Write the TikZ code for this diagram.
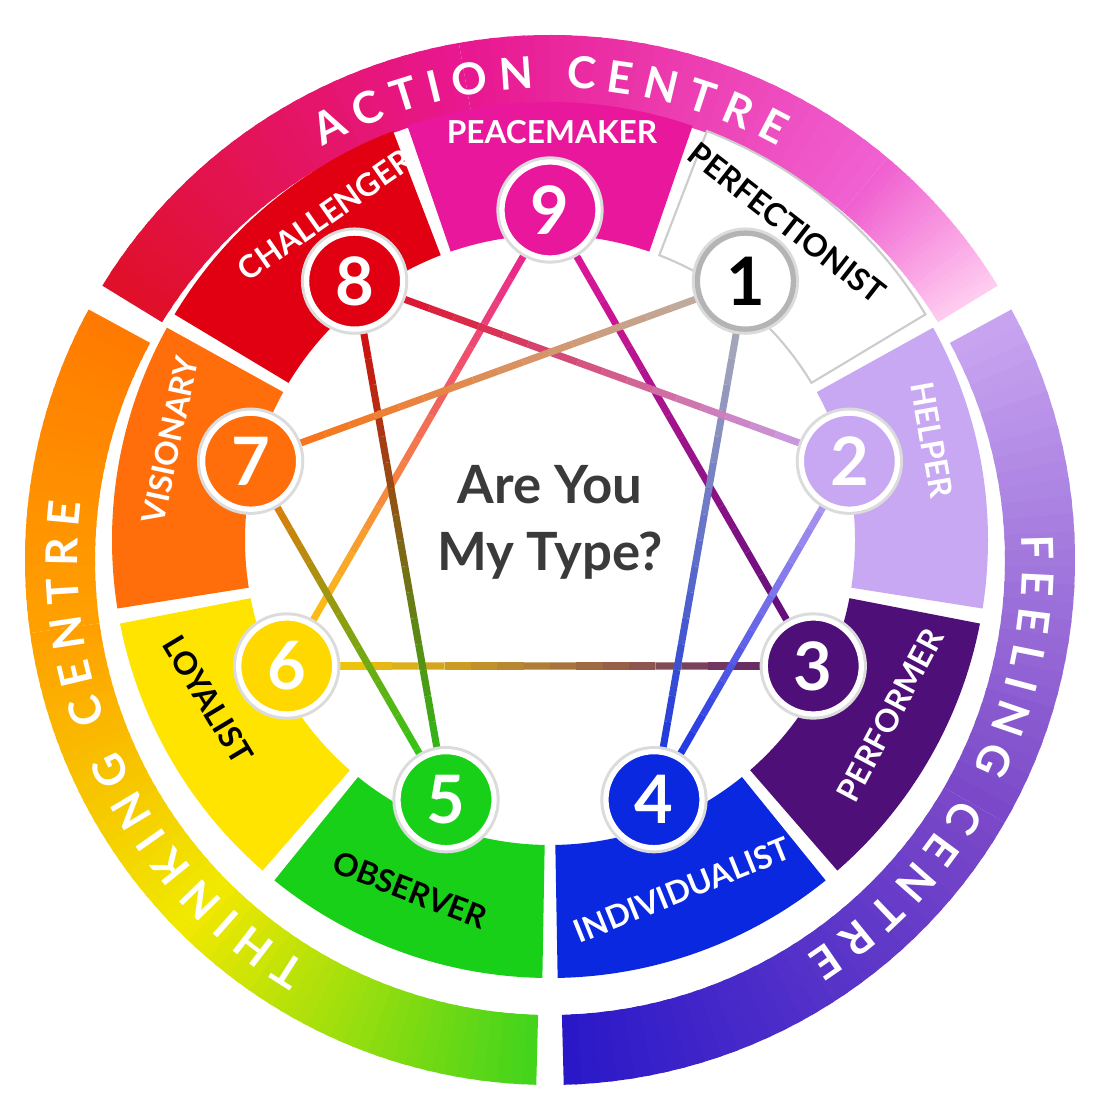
\documentclass[tikz,border=0pt]{standalone}
\usepackage{fontspec}
\setmainfont{Lato}
\usetikzlibrary{calc,decorations.text}
\definecolor{c9}{HTML}{E8179B}
\definecolor{c1}{HTML}{FFFFFF}
\definecolor{c1l}{HTML}{B4B4B4}
\definecolor{c2}{HTML}{C8A8F2}
\definecolor{c3}{HTML}{4E0F78}
\definecolor{c4}{HTML}{0A28E0}
\definecolor{c5}{HTML}{18D018}
\definecolor{c6}{HTML}{FFD800}
\definecolor{c6s}{HTML}{FFE400}
\definecolor{c7}{HTML}{FF6E0A}
\definecolor{c8}{HTML}{E00012}
\definecolor{ra}{HTML}{E0102A}
\definecolor{rb}{HTML}{E81890}
\definecolor{rc}{HTML}{F060D0}
\definecolor{rd}{HTML}{FFCCF0}
\definecolor{fa}{HTML}{C8A4F0}
\definecolor{fb}{HTML}{7A48C8}
\definecolor{fc}{HTML}{2A18C8}
\definecolor{ta}{HTML}{44D41C}
\definecolor{tb}{HTML}{F0E800}
\definecolor{tc}{HTML}{FFA000}
\definecolor{td}{HTML}{FF7A00}
\definecolor{txt}{HTML}{3A3A3A}
\newcommand\ringpart[6]{%
  \foreach \k in {0,...,29}{%
    \pgfmathsetmacro\angA{90-(#1+(#2-#1)*\k/30)}%
    \pgfmathsetmacro\angB{90-(#1+(#2-#1)*min(\k+1.4,30)/30)}%
    \pgfmathtruncatemacro\pc{\k*100/29}%
    \fill[#4!\pc!#3] ($(550,540)+(\angA:#5)$) arc[start angle=\angA,end angle=\angB,radius=#5]
      -- ($(550,540)+(\angB:#6)$) arc[start angle=\angB,end angle=\angA,radius=#6] -- cycle;}}
\newcommand\sectorpart[3]{%
  \pgfmathsetmacro\secA{90-(#1)+19}\pgfmathsetmacro\secB{90-(#1)-19}%
  \path[#2] ($(550,560)+({\secA}:305)$) arc[start angle=\secA,end angle=\secB,radius=305]
    -- ($(550,560)+({\secB}:438)$) arc[start angle=\secB,end angle=\secA,radius=438] -- cycle;}
\newcommand\gline[4]{%
  \foreach \k in {0,...,19}{%
    \pgfmathtruncatemacro\pa{\k*5}\pgfmathtruncatemacro\pb{\k+1}%
    \draw[line width=2pt,#4!\pa!#3] ($(#1)!{\k/20}!(#2)$) -- ($(#1)!{\pb/20}!(#2)$);}}
\begin{document}
\begin{tikzpicture}[x=0.01cm,y=0.01cm,
  num/.style={circle,minimum size=0.96cm,inner sep=0pt,line width=1.5pt,draw=white,
    preaction={draw=black!14,line width=3.2pt},text=white,
    font=\fontsize{19}{20}\selectfont\bfseries},
  lab/.style={font=\fontsize{9}{10}\selectfont\bfseries,inner sep=0pt},
  ringtext/.style={decorate,decoration={text along path,text align=center,text color=white,
    text={|\fontsize{12.5}{13}\selectfont\bfseries|#1}}}]
\useasboundingbox (0,0) rectangle (1100,1100);
\fill[white] (0,0) rectangle (1100,1100);
% outer ring
\ringpart{-58.5}{-10}{ra}{rb}{455}{525}
\ringpart{-10}{40}{rb}{rc}{455}{525}
\ringpart{40}{58.5}{rc}{rd}{455}{525}
\ringpart{61.5}{120}{fa}{fb}{455}{525}
\ringpart{120}{178.5}{fb}{fc}{455}{525}
\ringpart{181.5}{225}{ta}{tb}{455}{525}
\ringpart{225}{262}{tb}{tc}{455}{525}
\ringpart{262}{298.5}{tc}{td}{455}{525}
\path[ringtext={A C T I O N {\ \ }C E N T R E}] ($(550,540)+(150:472)$) arc[start angle=150,end angle=30,radius=472];
\path[ringtext={F E E L I N G {\ \ }C E N T R E}] ($(550,540)+(30:472)$) arc[start angle=30,end angle=-84,radius=472];
\path[ringtext={T H I N K I N G {\ \ }C E N T R E}] ($(550,540)+(-97:472)$) arc[start angle=-97,end angle=-211,radius=472];
% sectors
\sectorpart{0}{fill=c9}{}
\sectorpart{40}{fill=white,draw=black!20,line width=0.6pt}{}
\sectorpart{80}{fill=c2}{}
\sectorpart{120}{fill=c3}{}
\sectorpart{160}{fill=c4}{}
\sectorpart{200}{fill=c5}{}
\sectorpart{240}{fill=c6s}{}
\sectorpart{280}{fill=c7}{}
\sectorpart{320}{fill=c8}{}
% sector labels
\node[lab,text=white] (l9) at (552,968) {PEACEMAKER};
\node[lab,text=black,rotate=-38] (l1) at (787,877) {PERFECTIONIST};
\node[lab,text=white,rotate=-80] (l2) at (932,660) {HELPER};
\node[lab,text=white,rotate=62] (l3) at (890,385) {PERFORMER};
\node[lab,text=white,rotate=22] (l4) at (682,210) {INDIVIDUALIST};
\node[lab,text=black,rotate=-21] (l5) at (410,210) {OBSERVER};
\node[lab,text=black,rotate=-59] (l6) at (208,400) {LOYALIST};
\node[lab,text=white,rotate=78] (l7) at (170,660) {VISIONARY};
\node[lab,text=white,rotate=35] (l8) at (325,885) {CHALLENGER};
% positions
\foreach \i in {1,...,9}{\coordinate (p\i) at ($(550,586)+({90-40*\i}:304)$);}
% lines
\gline{p9}{p3}{c9}{c3}
\gline{p9}{p6}{c9}{c6}
\gline{p6}{p3}{c6}{c3}
\gline{p1}{p4}{c1l}{c4}
\gline{p4}{p2}{c4}{c2}
\gline{p2}{p8}{c2}{c8}
\gline{p8}{p5}{c8}{c5}
\gline{p5}{p7}{c5}{c7}
\gline{p7}{p1}{c7}{c1l}
% numbers
\node[num,fill=c9] (n9) at (p9) {9};
\node[num,fill=white,draw=c1l,text=black] (n1) at (p1) {1};
\node[num,fill=c2] (n2) at (p2) {2};
\node[num,fill=c3] (n3) at (p3) {3};
\node[num,fill=c4] (n4) at (p4) {4};
\node[num,fill=c5] (n5) at (p5) {5};
\node[num,fill=c6] (n6) at (p6) {6};
\node[num,fill=c7] (n7) at (p7) {7};
\node[num,fill=c8] (n8) at (p8) {8};
\node[align=center,text=txt,font=\fontsize{15}{19}\selectfont\bfseries] (title) at (550,578) {Are You\\My Type?};
\end{tikzpicture}
\end{document}
